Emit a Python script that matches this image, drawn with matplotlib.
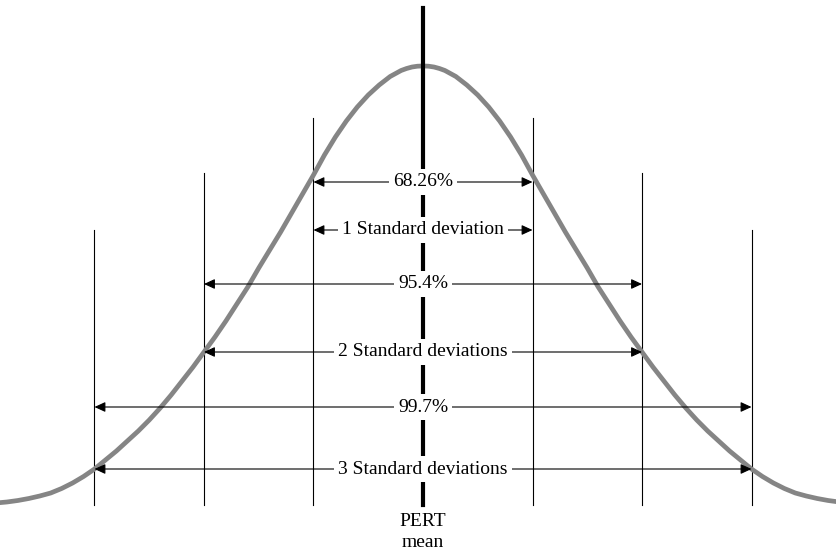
import numpy as np
import matplotlib
matplotlib.use("Agg")
import matplotlib.pyplot as plt

plt.rcParams['font.family'] = ['Liberation Serif', 'DejaVu Serif']

# bell curve: distance from mean (in sigma) and height
curve_dist = [0, 0.05, 0.1, 0.15, 0.2, 0.3, 0.4, 0.5, 0.6, 0.7, 0.8, 0.9, 1.0, 1.1, 1.2,
              1.3, 1.4, 1.5, 1.6, 1.7, 1.8, 1.9, 2.0, 2.1, 2.2, 2.3, 2.4, 2.5, 2.6,
              2.7, 2.8, 2.9, 3.0, 3.1, 3.2, 3.3, 3.4, 3.5, 3.6, 3.7, 3.8, 3.9]
curve_height = [488, 487.8, 487, 485.5, 483.5, 477.5, 469, 459, 447, 433, 417, 399, 379, 360, 341,
                322, 304, 286, 267, 250, 233, 217, 202, 187, 173, 159, 146, 134, 123,
                113, 103, 94, 85, 77.5, 71, 65.5, 61, 58, 55.5, 53.5, 52, 51]

# standard deviation bands
sigmas = [1, 2, 3]
band_pct = ["68.26%", "95.4%", "99.7%"]
band_name = ["1 Standard deviation", "2 Standard deviations", "3 Standard deviations"]
mean_label = "PERT\nmean"

# layout (height units match the curve)
line_top = [436, 381, 324]
line_bottom = 49
mean_top = 546
pct_y = [372, 270, 147]
name_y = [324, 202, 85]

fig = plt.figure(figsize=(8.36, 5.54), dpi=100)
ax = fig.add_axes([0, 0, 1, 1])
ax.set_xlim(-423 / 109.5, 413 / 109.5)
ax.set_ylim(0, 554)
ax.axis('off')

xs = [-d for d in curve_dist[::-1]] + curve_dist[1:]
ys = curve_height[::-1] + curve_height[1:]
ax.plot(xs, ys, color='#858585', lw=3.4, solid_capstyle='round',
        solid_joinstyle='round', zorder=3)

for s, top in zip(sigmas, line_top):
    for side in (-1, 1):
        ax.plot([side * s, side * s], [line_bottom, top], color='black', lw=0.8, zorder=2)

ax.plot([0, 0], [line_bottom, mean_top], color='black', lw=3, zorder=4)

arrow = dict(arrowstyle='<|-|>,head_length=0.65,head_width=0.3', color='black',
             lw=0.8, shrinkA=0, shrinkB=0)
box = dict(facecolor='white', edgecolor='none', pad=3)
for s, pct, name, yp, yn in zip(sigmas, band_pct, band_name, pct_y, name_y):
    for label, y in ((pct, yp), (name, yn)):
        ax.annotate('', xy=(-s, y), xytext=(s, y), arrowprops=arrow, zorder=5)
        ax.text(0, y, label, ha='center', va='center', fontsize=14,
                bbox=box, zorder=6)

ax.text(0, 22, mean_label, ha='center', va='center', fontsize=14, linespacing=1.25)

fig.savefig('out.png', dpi=100)
